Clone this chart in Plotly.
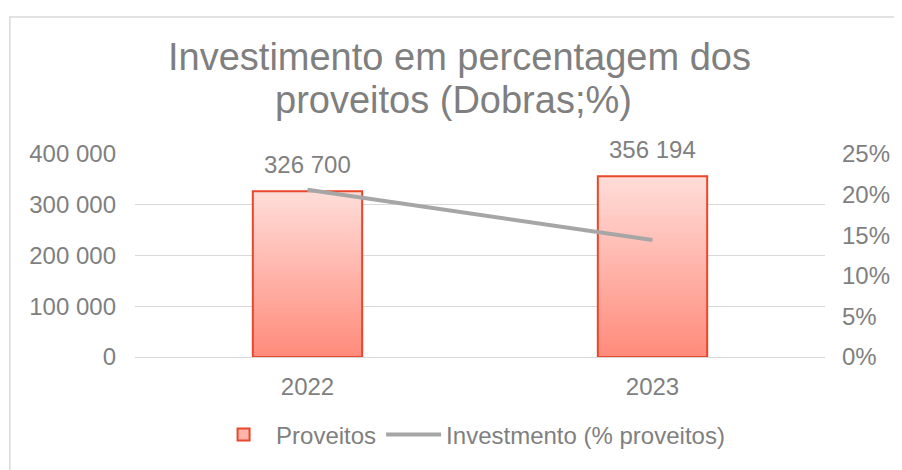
import plotly.graph_objects as go

categories = ["2022", "2023"]
proveitos = [326700, 356194]
investimento_pct = [0.206, 0.144]

left_ticks = [0, 100000, 200000, 300000, 400000]
right_ticks = [0, 0.05, 0.10, 0.15, 0.20, 0.25]

# page has an 8px body margin, so work in figure coordinates
W, H = 894, 462
L, R, T, B = 127, 72, 146, 110
PW, PH = W - L - R, H - T - B
TXT = "#7f7f7f"
FONT = "Liberation Sans, Arial, sans-serif"


def px(x):
    return (x - L) / PW


def py(y):
    return (H - B - y) / PH


fig = go.Figure()

# gradient bar: overlaid bars from tallest (lightest) to shortest (darkest)
N = 60
top_rgb = (255, 221, 217)
bot_rgb = (255, 140, 124)
for k in range(N):
    f = 1 - k / (N - 1)
    r = int(bot_rgb[0] + (top_rgb[0] - bot_rgb[0]) * f)
    g = int(bot_rgb[1] + (top_rgb[1] - bot_rgb[1]) * f)
    b = int(bot_rgb[2] + (top_rgb[2] - bot_rgb[2]) * f)
    fig.add_trace(go.Bar(
        x=categories, y=[v * (N - k) / N for v in proveitos],
        marker=dict(color=f"rgb({r},{g},{b})", line=dict(width=0)),
        showlegend=False, hoverinfo="skip", width=0.317,
    ))

# outline
fig.add_trace(go.Bar(
    x=categories, y=proveitos, name="Proveitos",
    marker=dict(color="rgba(0,0,0,0)", line=dict(color="#e8472b", width=2)),
    showlegend=False, width=0.317,
))

# legend-only entry
fig.add_trace(go.Bar(
    x=[None], y=[None], name="Proveitos",
    marker=dict(color="#ffb5ab", line=dict(color="#e8472b", width=2)),
))

fig.add_trace(go.Scatter(
    x=categories, y=investimento_pct, name="Investmento (% proveitos)",
    mode="lines", line=dict(color="#a6a6a6", width=4), yaxis="y2",
))

annotations = [
    dict(text="Investimento em percentagem dos", xref="paper", yref="paper",
         x=px(454), y=py(48), xanchor="center", yanchor="middle",
         showarrow=False, font=dict(size=38, color=TXT, family=FONT)),
    dict(text="proveitos (Dobras;%)", xref="paper", yref="paper",
         x=px(448), y=py(91), xanchor="center", yanchor="middle",
         showarrow=False, font=dict(size=38, color=TXT, family=FONT)),
]
for i, v in enumerate(proveitos):
    annotations.append(dict(
        x=i, y=v, xref="x", yref="y", text=f"{v:,}".replace(",", " "),
        showarrow=False, yanchor="middle", yshift=27,
        font=dict(size=24, color=TXT, family=FONT),
    ))

fig.update_layout(
    width=W, height=H,
    margin=dict(l=L, r=R, t=T, b=B),
    paper_bgcolor="white", plot_bgcolor="white",
    barmode="overlay",
    separators=", ",
    font=dict(family=FONT, color=TXT, size=24),
    xaxis=dict(
        type="category", showgrid=False, showline=True, linecolor="#d9d9d9", linewidth=1,
        tickfont=dict(size=24, color=TXT), ticks="", ticklabelstandoff=8,
        range=[-0.5, 1.5],
    ),
    yaxis=dict(
        range=[0, 400000], tickvals=left_ticks, tickformat=",.0f",
        showgrid=True, gridcolor="#d9d9d9", gridwidth=1, zeroline=False,
        tickfont=dict(size=24, color=TXT), ticklabelstandoff=18, showline=False,
    ),
    yaxis2=dict(
        range=[0, 0.25], tickvals=right_ticks, tickformat=".0%",
        overlaying="y", side="right", showgrid=False, zeroline=False,
        tickfont=dict(size=24, color=TXT), ticklabelstandoff=16, showline=False,
    ),
    legend=dict(
        orientation="h", x=px(465), xanchor="center",
        y=py(431), yanchor="middle",
        font=dict(size=24, color=TXT), itemwidth=55, traceorder="normal",
        bgcolor="rgba(0,0,0,0)",
    ),
    annotations=annotations,
    shapes=[
        dict(type="rect", xref="paper", yref="paper",
             x0=px(1), x1=px(W + 10),
             y0=py(H + 10), y1=py(7),
             line=dict(color="#d9d9d9", width=1.5), fillcolor="rgba(0,0,0,0)", layer="below"),
    ],
)

fig.write_html("out.html")
